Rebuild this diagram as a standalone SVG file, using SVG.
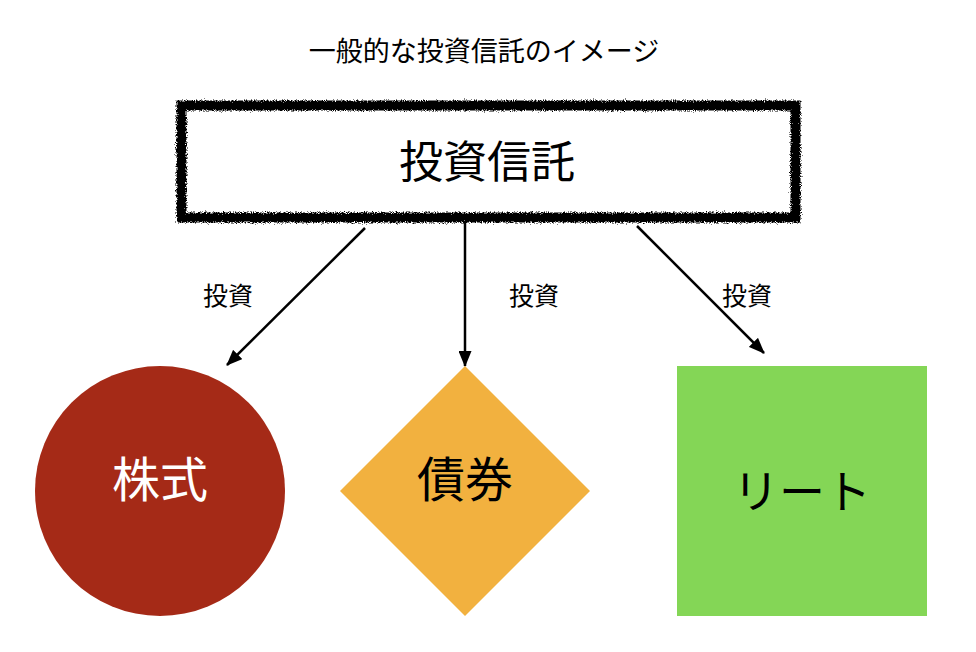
<svg xmlns="http://www.w3.org/2000/svg" width="976" height="652" viewBox="0 0 976 652">
<defs>
<style>
text{font-family:"Noto Sans CJK JP","Noto Sans",sans-serif;text-anchor:middle}
.lbl{font-size:25px;fill:#000}
.big{font-size:46px}
.conn{stroke:#000;stroke-width:2.5;fill:none}
</style>
<marker id="ah" viewBox="0 0 16 13" refX="15" refY="6.5" markerWidth="16" markerHeight="13" markerUnits="userSpaceOnUse" orient="auto">
<path d="M0,0 L16,6.5 L0,13 Z" fill="#000"/>
</marker>
<filter id="rough" x="-5%" y="-20%" width="110%" height="140%">
<feTurbulence type="fractalNoise" baseFrequency="0.9" numOctaves="2" seed="3" result="n"/>
<feDisplacementMap in="SourceGraphic" in2="n" scale="6" xChannelSelector="R" yChannelSelector="G"/>
</filter>
</defs>
<rect width="976" height="652" fill="#fff"/>
<text x="484" y="61" style="font-size:27px">一般的な投資信託のイメージ</text>
<g id="node-toushin">
<rect x="181.5" y="105.5" width="614" height="112" fill="#fff" stroke="#000" stroke-width="10" filter="url(#rough)"/>
<text x="487" y="178" style="font-size:44px">投資信託</text>
</g>
<g id="connectors">
<line class="conn" x1="365" y1="228" x2="227" y2="365" marker-end="url(#ah)"/>
<line class="conn" x1="465" y1="222" x2="465" y2="366" marker-end="url(#ah)"/>
<line class="conn" x1="637" y1="226" x2="764" y2="353" marker-end="url(#ah)"/>
<text class="lbl" x="228" y="305">投資</text>
<text class="lbl" x="534" y="305">投資</text>
<text class="lbl" x="747" y="305">投資</text>
</g>
<g id="node-kabushiki">
<circle cx="160" cy="491" r="125" fill="#A52A17"/>
<text class="big" x="160" y="497" fill="#fff" style="font-size:48px">株式</text>
</g>
<g id="node-saiken">
<polygon points="465,366 590,491 465,616 340,491" fill="#F2B13F"/>
<text class="big" x="465" y="497" style="font-size:48px">債券</text>
</g>
<g id="node-reit">
<rect x="677" y="366" width="250" height="250" fill="#84D656"/>
<text class="big" x="802" y="508">リート</text>
</g>
</svg>
